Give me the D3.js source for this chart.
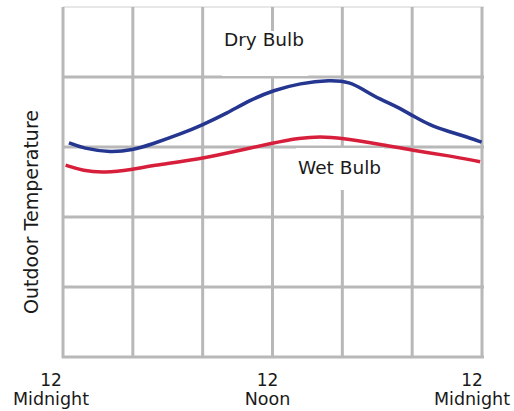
<!DOCTYPE html>
<html>
<head>
<meta charset="utf-8">
<script src="https://cdn.jsdelivr.net/npm/d3@7"></script>
<style>
  body { margin: 0; background: #fff; }
  text { font-family: "DejaVu Sans", Verdana, sans-serif; fill: #1a1a1a; }
</style>
</head>
<body>
<div id="chart"></div>
<script>
// hours after midnight
var dryHours = [0.34, 1.15, 2.75, 4.0, 4.98, 6.89, 7.94, 9.38, 10.71, 12.05, 13.57, 15.29, 16.44, 17.2, 18.16, 19.11, 20.07, 21.02, 21.98, 22.93, 23.98];
var dryTemps = [3.06, 2.98, 2.92, 2.96, 3.03, 3.20, 3.31, 3.48, 3.67, 3.81, 3.91, 3.96, 3.93, 3.82, 3.68, 3.58, 3.44, 3.31, 3.23, 3.16, 3.07];

var wetHours = [0.15, 1.16, 2.35, 4.0, 4.98, 7.85, 9.75, 12.05, 13.57, 14.72, 15.92, 18.16, 20.05, 22.0, 23.89];
var wetTemps = [2.74, 2.66, 2.63, 2.68, 2.73, 2.83, 2.93, 3.06, 3.13, 3.15, 3.13, 3.04, 2.95, 2.88, 2.79];

var gridHours = [0, 4, 8, 12, 16, 20, 24];
var gridTemps = [0, 1, 2, 3, 4];
var tickHours = [0, 12, 24];
var tickTop = ["12", "12", "12"];
var tickBottom = ["Midnight", "Noon", "Midnight"];
var seriesNames = ["Dry Bulb", "Wet Bulb"];

var width = 514,
    height = 411;

var svg = d3.select("#chart").append("svg")
    .attr("width", width)
    .attr("height", height);

var x = d3.scaleLinear().domain([0, 24]).range([63, 482]);
var y = d3.scaleLinear().domain([0, 5]).range([357, 7]);

var grid = svg.append("g").attr("class", "grid");

/* thin top edge */
grid.append("line")
    .attr("x1", x(0)).attr("x2", x(24) + 2)
    .attr("y1", y(5)).attr("y2", y(5))
    .attr("stroke", "#cfcfcf")
    .attr("stroke-width", 1);

grid.selectAll(".h")
    .data(gridTemps)
    .enter().append("line")
    .attr("class", "h")
    .attr("x1", x(0) - 1).attr("x2", x(24) + 2)
    .attr("y1", function(d) { return y(d); })
    .attr("y2", function(d) { return y(d); })
    .attr("stroke", "#b8b8b8")
    .attr("stroke-width", 3);

grid.selectAll(".v")
    .data(gridHours)
    .enter().append("line")
    .attr("class", "v")
    .attr("x1", function(d) { return x(d); })
    .attr("x2", function(d) { return x(d); })
    .attr("y1", y(5))
    .attr("y2", y(0) + 1)
    .attr("stroke", "#b8b8b8")
    .attr("stroke-width", 3);

var line = d3.line()
    .x(function(d) { return x(d[0]); })
    .y(function(d) { return y(d[1]); })
    .curve(d3.curveBasis);

var dry = d3.zip(dryHours, dryTemps),
    wet = d3.zip(wetHours, wetTemps);

svg.append("path")
    .datum(wet)
    .attr("d", line)
    .attr("fill", "none")
    .attr("stroke", "#d71f3b")
    .attr("stroke-width", 3.5);

svg.append("path")
    .datum(dry)
    .attr("d", line)
    .attr("fill", "none")
    .attr("stroke", "#253690")
    .attr("stroke-width", 3.5);

/* series labels sit on white boxes that hide the grid */
svg.append("rect")
    .attr("x", 222).attr("y", 31).attr("width", 86).attr("height", 45)
    .attr("fill", "#fff");
svg.append("text")
    .attr("x", 224).attr("y", 46)
    .attr("font-size", 18.5)
    .text(seriesNames[0]);

svg.append("rect")
    .attr("x", 296).attr("y", 148).attr("width", 88).attr("height", 42)
    .attr("fill", "#fff");
svg.append("text")
    .attr("x", 298).attr("y", 174)
    .attr("font-size", 18.5)
    .text(seriesNames[1]);

/* x tick labels, nudged left as in the original */
var shift = [-12, -5, -10];
var ticks = svg.append("g").selectAll("g")
    .data(tickHours)
    .enter().append("g")
    .attr("transform", function(d, i) { return "translate(" + (x(d) + shift[i]) + ",0)"; });

ticks.append("text")
    .attr("text-anchor", "middle")
    .attr("font-size", 17)
    .attr("y", 386)
    .text(function(d, i) { return tickTop[i]; });

ticks.append("text")
    .attr("text-anchor", "middle")
    .attr("font-size", 17.5)
    .attr("y", 405)
    .text(function(d, i) { return tickBottom[i]; });

/* y axis title */
svg.append("text")
    .attr("transform", "translate(38,212) rotate(-90)")
    .attr("text-anchor", "middle")
    .attr("font-size", 19)
    .text("Outdoor Temperature");
</script>
</body>
</html>
